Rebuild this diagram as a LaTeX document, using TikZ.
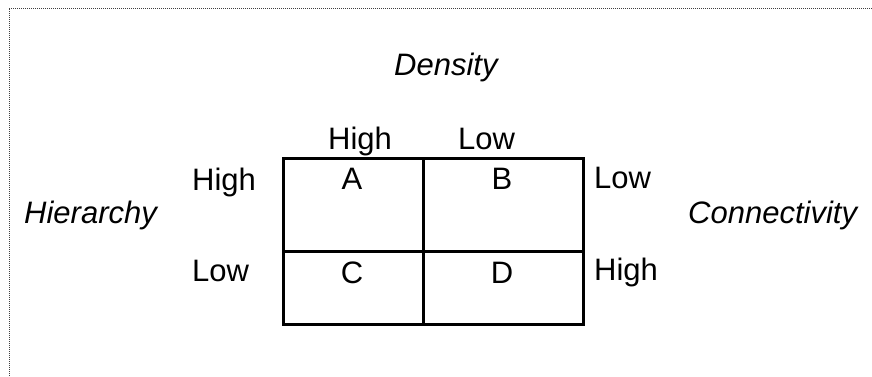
\documentclass[tikz,border=0pt]{standalone}
\usepackage{fontspec}
\setmainfont{Liberation Sans}
\usepackage{tikz}
\usetikzlibrary{positioning, calc}

\begin{document}
\begin{tikzpicture}[
		x=1pt, y=-1pt,
		cell/.style={draw, rectangle, line width=2.8pt, inner sep=0pt, anchor=north west},
		lbl/.style={font=\fontsize{31}{36}\selectfont, inner sep=0pt, anchor=base},
		axis/.style={lbl, font=\fontsize{31}{36}\selectfont\itshape},
		frame/.style={line width=0.9pt, black!75, dash pattern=on 1pt off 1pt}
	]

	\useasboundingbox (0,0) rectangle (872,376);

	% Frame (top and left edge only)
	\coordinate (fsw) at (9,376);
	\coordinate (fnw) at (9,8);
	\coordinate (fne) at (872,8);
	\draw[frame] (fsw) -- (fnw) -- (fne);

	% Matrix cells
	\node[cell, minimum width=140pt, minimum height=93pt] (cellA) at (282,157) {};
	\node[cell, minimum width=160pt, minimum height=93pt] (cellB) at (422,157) {};
	\node[cell, minimum width=140pt, minimum height=73pt] (cellC) at (282,250) {};
	\node[cell, minimum width=160pt, minimum height=73pt] (cellD) at (422,250) {};

	% Cell letters
	\node[lbl] (A) at (352,189) {A};
	\node[lbl] (B) at (502,189) {B};
	\node[lbl] (C) at (352,283) {C};
	\node[lbl] (D) at (502,283) {D};

	% Column heads
	\node[axis, anchor=base west] (density) at (394,75) {Density};
	\node[lbl, anchor=base west] (densHigh) at (328,149) {High};
	\node[lbl, anchor=base west] (densLow) at (458,149) {Low};

	% Row heads, left
	\node[axis, anchor=base west] (hierarchy) at (24,223) {Hierarchy};
	\node[lbl, anchor=base west] (hierHigh) at (192,190) {High};
	\node[lbl, anchor=base west] (hierLow) at (192,281) {Low};

	% Row heads, right
	\node[axis, anchor=base west] (connectivity) at (688,223) {Connectivity};
	\node[lbl, anchor=base west] (connLow) at (594,188) {Low};
	\node[lbl, anchor=base west] (connHigh) at (594,280) {High};

\end{tikzpicture}
\end{document}
